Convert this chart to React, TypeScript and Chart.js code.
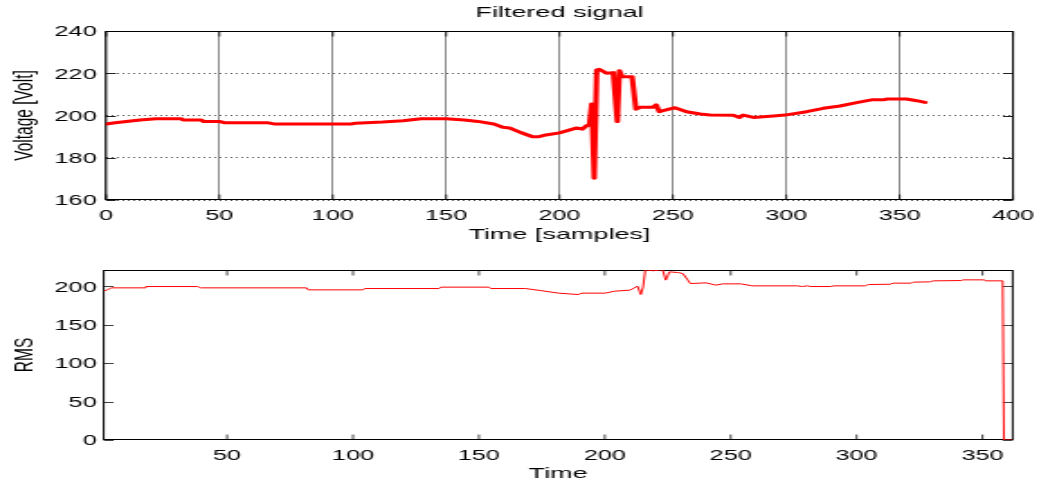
import React, { useEffect, useRef } from "react";
import { Chart, registerables } from "chart.js";

Chart.register(...registerables);

// The reference figure is stretched horizontally; draw on a narrower canvas and stretch it with CSS.
const VIEW_W = 1039;
const IW = 577;
const S = VIEW_W / IW;
const FONT = "'Liberation Sans', Arial, Helvetica, sans-serif";

// ---- Filtered signal (top panel) ----
const filteredX = [0, 4, 9, 15, 22, 33, 34, 42, 43, 50, 52, 71, 74, 108, 110, 122, 131, 139, 150, 158, 164, 171, 175, 178, 183, 188, 191, 194, 200, 204.6, 207.6, 210, 212, 213.2, 214.2, 215.3, 216.4, 217.5, 220.8, 223.7, 225.5, 226.4, 227.6, 232, 233.7, 235.5, 241.3, 242.6, 244, 250.9, 256, 262, 266.4, 276.7, 279.3, 281, 285.5, 294.3, 299.4, 309, 316.3, 323.7, 331, 337.6, 342.8, 344.2, 353, 357.5, 361.2];
const filteredY = [196.0, 196.6, 197.2, 197.9, 198.5, 198.5, 197.9, 197.9, 197.2, 197.2, 196.6, 196.6, 196.0, 196.0, 196.3, 196.9, 197.5, 198.5, 198.5, 197.9, 197.2, 196.0, 194.4, 194.1, 191.9, 190.0, 190.0, 190.8, 191.8, 193.2, 194.1, 193.5, 195.2, 195.5, 205.5, 170.3, 221.5, 221.9, 220.0, 220.3, 197.1, 221.2, 218.4, 218.4, 203.0, 203.9, 203.9, 205.0, 201.8, 203.7, 201.8, 200.7, 200.2, 200.1, 199.1, 200.2, 199.1, 199.8, 200.2, 201.8, 203.4, 204.5, 206.1, 207.4, 207.4, 207.8, 207.8, 207.0, 206.2];
const topXTicks = [0, 50, 100, 150, 200, 250, 300, 350, 400];
const topYTicks = [160, 180, 200, 220, 240];

// ---- RMS (bottom panel) ----
const rmsX = [1, 2.3, 3.9, 17.1, 17.7, 38.2, 39.5, 81.6, 82.2, 104, 104.6, 134.2, 134.9, 154, 154.7, 168.5, 174.4, 181.6, 189.5, 190.8, 200.1, 204, 210, 213, 214.3, 215.2, 216.1, 219.1, 223, 224.2, 225.7, 229, 231, 234, 240.2, 244.2, 246.8, 254, 258.6, 276.4, 278.4, 280.4, 281.7, 289.6, 290.9, 303.4, 304.7, 313.3, 314.6, 321.8, 322.5, 329.1, 330.4, 341.6, 342.3, 350.8, 351.2, 358, 358.5, 362];
const rmsY = [194, 194.8, 197.8, 197.8, 199.5, 199.5, 197.8, 197.8, 195.2, 195.2, 196.9, 196.9, 198.7, 198.7, 196.9, 196.9, 194.3, 190.9, 189.1, 190.9, 190.9, 193.5, 194.8, 200, 189.1, 199, 221.5, 220, 221.5, 207.8, 218.6, 217.7, 216.4, 203.4, 204.3, 201.3, 203, 203, 200.4, 200.4, 199.5, 200.4, 199.5, 199.5, 200.4, 200.4, 202.1, 202.5, 203.9, 203.9, 205.2, 205.6, 206.9, 207.3, 208.2, 208.2, 206.9, 206.9, 0, 0];
const rmsXTicks = [50, 100, 150, 200, 250, 300, 350];
const rmsYTicks = [0, 50, 100, 150, 200];

const font = (size: number) => ({ family: FONT, size, lineHeight: 1.2 });

const zeroPad = (s: any) => {
  s.paddingLeft = 0;
  s.paddingRight = 0;
  s.paddingTop = 0;
  s.paddingBottom = 0;
};

const setTicks = (values: number[]) => (s: any) => {
  s.ticks = values.map((v) => ({ value: v }));
};

// Box around the plot area plus inward tick marks (drawn under the data line)
const framePlugin = {
  id: "frame",
  beforeDatasetsDraw(chart: any, _args: any, opts: any) {
    const { ctx, chartArea: a, scales } = chart;
    const top = Math.round(a.top) + 0.5;
    const bottom = Math.round(a.bottom) - 0.5;
    const left = a.left;
    const right = a.right;
    ctx.save();
    ctx.lineWidth = 1;
    ctx.strokeStyle = opts.tickColor || "#333";
    ctx.beginPath();
    const xs = scales.x;
    const ys = scales.y;
    xs.ticks.forEach((t: any) => {
      const p = xs.getPixelForValue(t.value);
      ctx.moveTo(p, bottom);
      ctx.lineTo(p, bottom - opts.xLen);
      ctx.moveTo(p, top);
      ctx.lineTo(p, top + opts.xLen);
    });
    ys.ticks.forEach((t: any) => {
      const p = Math.round(ys.getPixelForValue(t.value)) + 0.5;
      ctx.moveTo(left, p);
      ctx.lineTo(left + opts.yLen, p);
      ctx.moveTo(right, p);
      ctx.lineTo(right - opts.yLen, p);
    });
    ctx.stroke();
    ctx.strokeStyle = "#000";
    ctx.strokeRect(left, top, right - left, bottom - top);
    ctx.restore();
  },
};

export default function App() {
  const topRef = useRef<HTMLCanvasElement | null>(null);
  const botRef = useRef<HTMLCanvasElement | null>(null);

  useEffect(() => {
    if (!topRef.current || !botRef.current) return;

    const topChart = new Chart(topRef.current, {
      type: "line",
      data: {
        datasets: [
          {
            data: filteredX.map((x, i) => ({ x, y: filteredY[i] })),
            borderColor: "#ff0000",
            borderWidth: 3,
            pointRadius: 0,
            tension: 0,
            fill: false,
            borderJoinStyle: "round",
            borderCapStyle: "round",
          },
        ],
      },
      options: {
        animation: false,
        responsive: false,
        devicePixelRatio: 1,
        layout: { padding: { left: 0, right: IW - 1013 / S, top: 0, bottom: 0 } },
        plugins: {
          legend: { display: false },
          tooltip: { enabled: false },
          title: { display: false },
          frame: { xLen: 5, yLen: 10 / S, tickColor: "#222" },
        } as any,
        scales: {
          x: {
            type: "linear",
            position: "bottom",
            min: 0,
            max: 400,
            afterBuildTicks: setTicks(topXTicks),
            afterFit: (s: any) => {
              s.height = 50;
              zeroPad(s);
            },
            ticks: { font: font(14), color: "#000", padding: 7.3, maxRotation: 0, autoSkip: false },
            grid: { display: true, color: "#8a8a8a", lineWidth: 1, drawTicks: false },
            border: { display: false },
            title: {
              display: true,
              text: "Time [samples]",
              font: font(15),
              color: "#000",
              padding: { top: 0, bottom: 6.6 },
            },
          },
          x2: {
            type: "linear",
            position: "top",
            min: 0,
            max: 400,
            ticks: { display: false },
            grid: { display: false, drawTicks: false },
            border: { display: false },
            title: {
              display: true,
              text: "Filtered signal",
              font: font(15),
              color: "#000",
              padding: { top: 3.8, bottom: 0 },
            },
            afterFit: (s: any) => {
              s.height = 31;
              zeroPad(s);
            },
          },
          y: {
            type: "linear",
            min: 160,
            max: 240,
            afterBuildTicks: setTicks(topYTicks),
            afterFit: (s: any) => {
              s.width = 106 / S;
              zeroPad(s);
            },
            ticks: { font: font(14), color: "#000", padding: 5.2, labelOffset: 1.5 },
            grid: { color: "#5a5a5a", lineWidth: 1, drawTicks: false },
            border: { display: false, dash: [1, 2] },
            title: {
              display: true,
              text: "Voltage [Volt]",
              font: font(15.5),
              color: "#000",
              padding: { top: 4.4, bottom: 0 },
            },
          },
        } as any,
      },
      plugins: [framePlugin as any],
    });

    const botChart = new Chart(botRef.current, {
      type: "line",
      data: {
        datasets: [
          {
            data: rmsX.map((x, i) => ({ x, y: rmsY[i] })),
            borderColor: "#ff0000",
            borderWidth: 1,
            pointRadius: 0,
            tension: 0,
            fill: false,
          },
        ],
      },
      options: {
        animation: false,
        responsive: false,
        devicePixelRatio: 1,
        layout: { padding: { left: 0, right: IW - 1012.7 / S, top: 20, bottom: 0 } },
        plugins: {
          legend: { display: false },
          tooltip: { enabled: false },
          title: { display: false },
          frame: { xLen: 5, yLen: 10 / S, tickColor: "#444" },
        } as any,
        scales: {
          x: {
            type: "linear",
            position: "bottom",
            min: 1,
            max: 362,
            afterBuildTicks: setTicks(rmsXTicks),
            afterFit: (s: any) => {
              s.height = 43;
              zeroPad(s);
            },
            ticks: { font: font(14), color: "#000", padding: 7.3, maxRotation: 0, autoSkip: false },
            grid: { display: false, drawTicks: false },
            border: { display: false },
            title: {
              display: true,
              text: "Time",
              font: font(15),
              color: "#000",
              padding: { top: 0, bottom: 0.6 },
            },
          },
          y: {
            type: "linear",
            min: 0,
            max: 221,
            afterBuildTicks: setTicks(rmsYTicks),
            afterFit: (s: any) => {
              s.width = 103.7 / S;
              zeroPad(s);
            },
            ticks: { font: font(14), color: "#000", padding: 3.9, labelOffset: 1.5 },
            grid: { display: false, drawTicks: false },
            border: { display: false },
            title: {
              display: true,
              text: "RMS",
              font: font(15.5),
              color: "#000",
              padding: { top: 4.4, bottom: 0 },
            },
          },
        } as any,
      },
      plugins: [framePlugin as any],
    });

    return () => {
      topChart.destroy();
      botChart.destroy();
    };
  }, []);

  return (
    <div
      style={{
        position: "absolute",
        left: 0,
        top: 0,
        width: VIEW_W + "px",
        height: "483px",
        overflow: "hidden",
        background: "#fff",
      }}
    >
      <canvas
        ref={topRef}
        width={IW}
        height={250}
        style={{ position: "absolute", left: 0, top: 0, width: VIEW_W + "px", height: "250px" }}
      />
      <canvas
        ref={botRef}
        width={IW}
        height={233}
        style={{ position: "absolute", left: 0, top: "250px", width: VIEW_W + "px", height: "233px" }}
      />
    </div>
  );
}
